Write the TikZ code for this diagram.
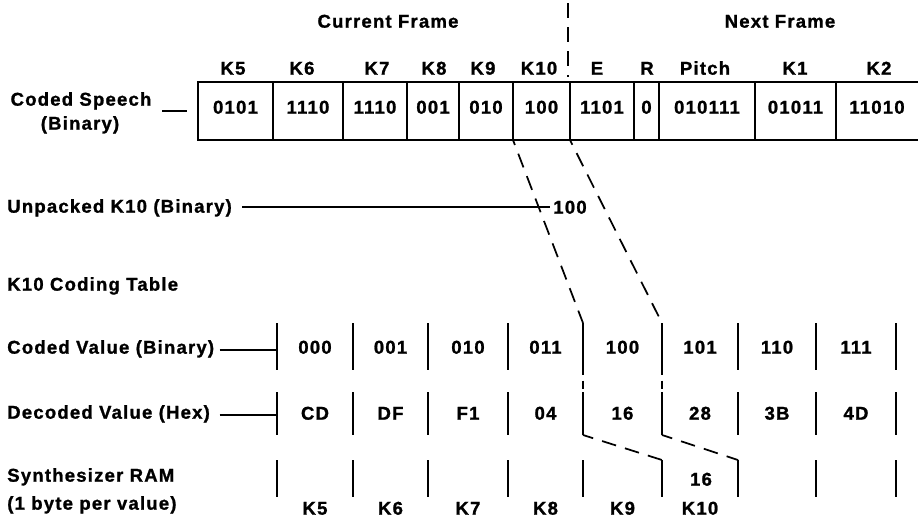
\documentclass[tikz,border=0pt]{standalone}
\usepackage{fontspec}
\setmainfont{Liberation Sans}[LetterSpace=6.5, BoldFeatures={FakeBold=1.2}]
\begin{document}
\begin{tikzpicture}[x=0.75pt,y=-0.75pt,
  lbl/.style={inner sep=0pt, text height=10pt, text depth=0pt, font=\bfseries\fontsize{13.9}{16}\selectfont},
  ln/.style={line width=1.4pt},
  dsh/.style={line width=1.3pt, dash pattern=on 11pt off 7pt}]
\useasboundingbox (0,0) rectangle (918,519);

% frame headings
\node[lbl] (cur) at (388,21) {Current Frame};
\node[lbl] (nxt) at (780,21) {Next Frame};
\coordinate (fsT) at (568,3);
\coordinate (fsB) at (568,77);
\draw[dsh] (fsT) -- (fsB);

% coded speech box
\coordinate (bTL) at (198,82); \coordinate (bTR) at (918,82);
\coordinate (bBL) at (198,140); \coordinate (bBR) at (918,140);
\draw[ln] (bTR) -- (bTL) -- (bBL) -- (bBR);
\foreach \x [count=\i] in {273,343,407,459,513,570,634,659,755,836} {
  \coordinate (tT\i) at (\x,82); \coordinate (tB\i) at (\x,140);
  \draw[ln] (tT\i) -- (tB\i);
}
\foreach \cx/\lx/\k/\v [count=\i] in {235.5/233/K5/0101, 308/302/K6/1110, 375/377/K7/1110,
   433/434/K8/001, 486/483/K9/010, 541.5/539/K10/100, 602/597/E/1101, 646.5/647/R/0,
   707/705/Pitch/010111, 795.5/795/K1/01011, 877/879/K2/11010} {
  \node[lbl] (tk\i) at (\lx,68) {\k};
  \node[lbl] (tv\i) at (\cx,107) {\v};
}
\node[lbl] (cs1) at (81,99) {Coded Speech};
\node[lbl] (cs2) at (80,123) {(Binary)};
\coordinate (csA) at (162,111);
\coordinate (csB) at (187,111);
\draw[ln] (csA) -- (csB);

% unpacked
\node[lbl, anchor=west] (unp) at (7,206) {Unpacked K10 (Binary)};
\node[lbl] (v100) at (570,207) {100};
\draw[line width=1.2pt] ([xshift=7.5pt]unp.east |- v100.west) -- ([xshift=-2pt]v100.west);

% coding table
\node[lbl, anchor=west] (ktab) at (7,284) {K10 Coding Table};
\node[lbl, anchor=west] (cvl) at (7,347) {Coded Value (Binary)};
\node[lbl, anchor=west] (hvl) at (7,412) {Decoded Value (Hex)};
\node[lbl, anchor=west] (ram1) at (7,475) {Synthesizer RAM};
\node[lbl, anchor=west] (ram2) at (7,503) {(1 byte per value)};

\foreach \x [count=\i] in {277,353,428,508,583,662,738,816,896} {
  \coordinate (cT\i) at (\x,323); \coordinate (cB\i) at (\x,370);
  \coordinate (hT\i) at (\x,392); \coordinate (hB\i) at (\x,435);
  \coordinate (rT\i) at (\x,460); \coordinate (rB\i) at (\x,497);
  \draw[ln] (cT\i) -- (cB\i);
  \draw[ln] (hT\i) -- (hB\i);
  \draw[ln] (rT\i) -- (rB\i);
}
\coordinate (cvE) at (277,350);
\coordinate (hvE) at (277,415);
\draw[ln] ([xshift=4pt]cvl.east |- cvE) -- (cvE);
\draw[ln] ([xshift=4pt]cvl.east |- hvE) -- (hvE);

\foreach \cx/\c/\h [count=\i] in {315/000/CD, 390.5/001/DF, 468/010/F1, 545.5/011/04,
   622.5/100/16, 700/101/28, 777/110/3B, 856/111/4D} {
  \node[lbl] (cv\i) at (\cx,347) {\c};
  \node[lbl] (hv\i) at (\cx,413) {\h};
}
\foreach \cx/\k [count=\i] in {315/K5, 390.5/K6, 468/K7, 545.5/K8, 622.5/K9, 700/K10} {
  \node[lbl] (rk\i) at (\cx,508) {\k};
}
\node[lbl] (rv16) at (701,479) {16};

% dashed mapping lines
\draw[dsh, dash phase=7pt] (tB5) -- (cT5);
\draw[dsh, dash phase=7pt] (tB6) -- (cT6);
\draw[dsh, dash pattern=on 6pt off 4pt, dash phase=2pt] (cB5) -- (hT5);
\draw[dsh, dash pattern=on 6pt off 4pt, dash phase=2pt] (cB6) -- (hT6);
\draw[dsh, dash phase=3pt] (hB5) -- (rT6);
\draw[dsh, dash phase=3pt] (hB6) -- (rT7);
\end{tikzpicture}
\end{document}
